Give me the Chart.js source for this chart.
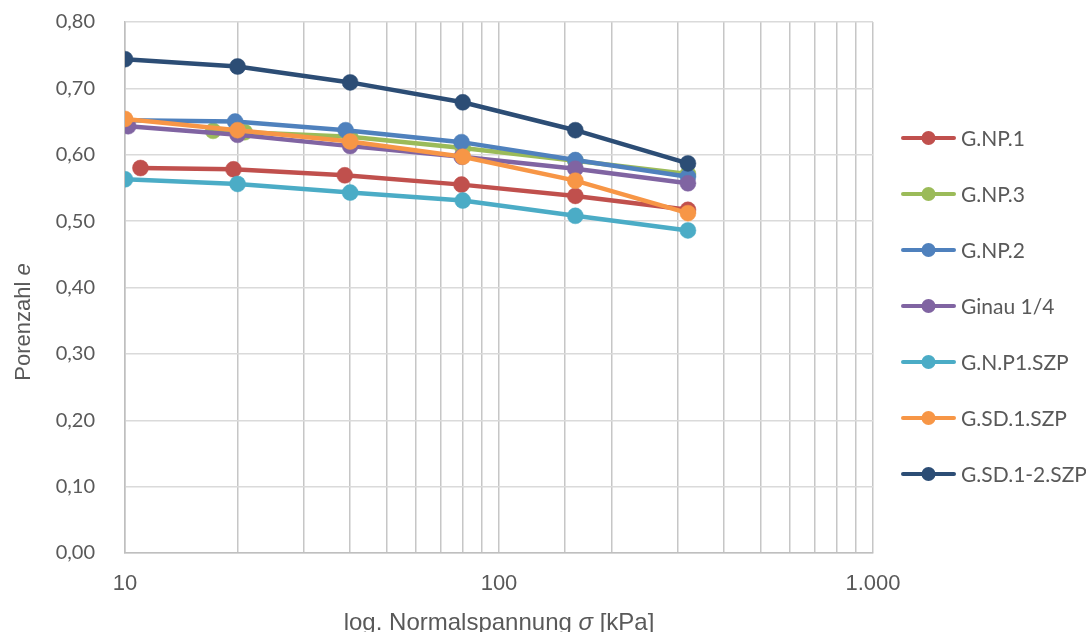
<!DOCTYPE html>
<html>
<head>
<meta charset="utf-8">
<script src="https://cdn.jsdelivr.net/npm/chart.js@4/dist/chart.umd.min.js"></script>
<style>
  html, body { margin: 0; padding: 0; background: #ffffff; }
  #wrap { width: 1086px; height: 632px; position: relative; }
</style>
</head>
<body>
<div id="wrap"><canvas id="c" width="1086" height="632"></canvas></div>
<script>
// ---- data ----
const seriesNames = ['G.NP.1', 'G.NP.3', 'G.NP.2', 'Ginau 1/4', 'G.N.P1.SZP', 'G.SD.1.SZP', 'G.SD.1-2.SZP'];
const seriesColors = ['#C0504D', '#9BBB59', '#4F81BD', '#8064A2', '#4BACC6', '#F79646', '#2C4D75'];

const gnp1X = [11, 19.5, 38.7, 79.4, 160, 320];
const gnp1Y = [0.580, 0.578, 0.569, 0.555, 0.538, 0.517];

const gnp3X = [17.2, 20.9, 40, 80, 160, 320];
const gnp3Y = [0.636, 0.634, 0.627, 0.610, 0.591, 0.571];

const gnp2X = [10, 19.7, 38.9, 79.4, 160, 320];
const gnp2Y = [0.652, 0.650, 0.637, 0.619, 0.592, 0.567];

const ginauX = [10.2, 20, 40, 79.5, 160, 320];
const ginauY = [0.643, 0.630, 0.613, 0.597, 0.579, 0.557];

const gnp1szpX = [10, 20, 40, 80, 160, 320];
const gnp1szpY = [0.563, 0.556, 0.543, 0.531, 0.508, 0.486];

const gsd1szpX = [10, 20, 40, 80, 160, 320];
const gsd1szpY = [0.654, 0.637, 0.620, 0.597, 0.561, 0.512];

const gsd12szpX = [10, 20, 40, 80, 160, 320];
const gsd12szpY = [0.744, 0.733, 0.709, 0.679, 0.637, 0.587];

const xTickValues = [10, 100, 1000];
const xTickLabels = ['10', '100', '1.000'];
const yTickLabels = ['0,00', '0,10', '0,20', '0,30', '0,40', '0,50', '0,60', '0,70', '0,80'];

const xTitleParts = [['log. Normalspannung ', false], ['σ', true], [' [kPa]', false]];
const yTitleParts = [['Porenzahl ', false], ['e', true]];

// ---- build datasets ----
const xs = [gnp1X, gnp3X, gnp2X, ginauX, gnp1szpX, gsd1szpX, gsd12szpX];
const ys = [gnp1Y, gnp3Y, gnp2Y, ginauY, gnp1szpY, gsd1szpY, gsd12szpY];
const datasets = seriesNames.map((name, i) => ({
  label: name,
  data: xs[i].map((x, k) => ({ x: x, y: ys[i][k] })),
  borderColor: seriesColors[i],
  backgroundColor: seriesColors[i],
  pointBackgroundColor: seriesColors[i],
  pointBorderColor: seriesColors[i],
  borderWidth: 4.5,
  pointRadius: 8,
  pointBorderWidth: 0.5,
  pointHoverRadius: 8,
  tension: 0,
  fill: false,
  order: seriesNames.length - i
}));

const TEXT = '#595959';

const titlesAndLegend = {
  id: 'titlesAndLegend',
  afterDraw(chart) {
    const ctx = chart.ctx;
    const area = chart.chartArea;
    ctx.save();
    ctx.fillStyle = TEXT;
    // x title
    const xf = (it) => (it ? 'italic ' : '') + '24px "Liberation Sans", Arial, sans-serif';
    let total = 0;
    xTitleParts.forEach(p => { ctx.font = xf(p[1]); total += ctx.measureText(p[0]).width; });
    let cx = (area.left + area.right) / 2 - total / 2;
    ctx.textBaseline = 'alphabetic';
    ctx.textAlign = 'left';
    xTitleParts.forEach(p => { ctx.font = xf(p[1]); ctx.fillText(p[0], cx, 630); cx += ctx.measureText(p[0]).width; });
    // y title
    const yf = (it) => (it ? 'italic ' : '') + '22px "Liberation Sans", Arial, sans-serif';
    total = 0;
    yTitleParts.forEach(p => { ctx.font = yf(p[1]); total += ctx.measureText(p[0]).width; });
    ctx.save();
    ctx.translate(30, 322);
    ctx.rotate(-Math.PI / 2);
    let cy = -total / 2;
    yTitleParts.forEach(p => { ctx.font = yf(p[1]); ctx.fillText(p[0], cy, 0); cy += ctx.measureText(p[0]).width; });
    ctx.restore();
    // legend
    ctx.textBaseline = 'middle';
    ctx.font = '21px Lato, "Liberation Sans", sans-serif';
    chart.data.datasets.forEach((ds, i) => {
      const y = 138 + 56 * i;
      ctx.strokeStyle = ds.borderColor;
      ctx.lineWidth = 4;
      ctx.lineCap = 'round';
      ctx.beginPath();
      ctx.moveTo(903, y);
      ctx.lineTo(954, y);
      ctx.stroke();
      ctx.fillStyle = ds.borderColor;
      ctx.beginPath();
      ctx.arc(928.5, y, 7, 0, Math.PI * 2);
      ctx.fill();
      ctx.fillStyle = TEXT;
      ctx.fillText(ds.label, 961, y + 1);
    });
    ctx.restore();
  }
};

new Chart(document.getElementById('c'), {
  type: 'line',
  data: { datasets: datasets },
  options: {
    responsive: false,
    animation: false,
    events: [],
    layout: { padding: { left: 0, right: 213, top: 22, bottom: 0 } },
    plugins: { legend: { display: false }, tooltip: { enabled: false }, title: { display: false } },
    scales: {
      x: {
        type: 'logarithmic',
        min: 10,
        max: 1000,
        afterFit(scale) { scale.height = 79; },
        grid: { color: '#c6c6c6', lineWidth: 1.5, drawTicks: false },
        border: { color: '#bfbfbf', width: 1.5 },
        ticks: {
          autoSkip: false,
          maxRotation: 0,
          padding: 18,
          color: TEXT,
          font: { family: '"Liberation Sans", Arial, sans-serif', size: 22 },
          callback: function (value) {
            const k = xTickValues.indexOf(Number(value));
            return k >= 0 ? xTickLabels[k] : '';
          }
        },
        title: { display: false }
      },
      y: {
        min: 0,
        max: 0.8,
        afterFit(scale) { scale.width = 125; },
        grid: { color: '#dadada', lineWidth: 1.5, drawTicks: true, tickLength: 22, tickColor: 'rgba(0,0,0,0)' },
        border: { color: '#bfbfbf', width: 1.5 },
        ticks: {
          stepSize: 0.1,
          padding: 8,
          color: TEXT,
          font: { family: 'Lato, "Liberation Sans", sans-serif', size: 20 },
          callback: function (value) {
            const k = Math.round(value * 10);
            return yTickLabels[k];
          }
        },
        title: { display: false }
      }
    }
  },
  plugins: [titlesAndLegend]
});
</script>
</body>
</html>
